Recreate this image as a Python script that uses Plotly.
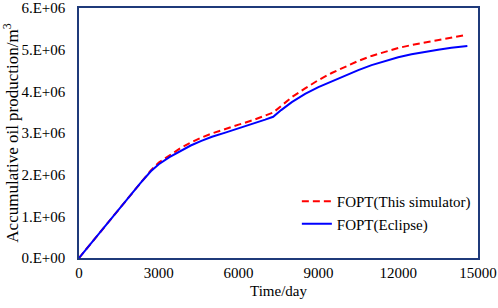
import plotly.graph_objects as go

# Data
t_sim = [0, 500, 1000, 1500, 1900, 2300, 2700, 3000, 3400, 3800, 4200, 4600, 5000, 5500, 6000,
         6500, 7000, 7300, 7600, 8000, 8500, 9000, 9500, 10000, 10500, 11000, 11500, 12000,
         12500, 13000, 13500, 14000, 14450]
fopt_sim = [0, 0.39e6, 0.78e6, 1.17e6, 1.49e6, 1.80e6, 2.10e6, 2.29e6, 2.47e6, 2.63e6, 2.77e6,
            2.89e6, 2.99e6, 3.10e6, 3.20e6, 3.30e6, 3.41e6, 3.49e6, 3.65e6, 3.86e6, 4.07e6,
            4.27e6, 4.44e6, 4.59e6, 4.73e6, 4.85e6, 4.95e6, 5.04e6, 5.11e6, 5.17e6, 5.23e6,
            5.29e6, 5.34e6]

t_ecl = [0, 500, 1000, 1500, 1900, 2300, 2700, 3000, 3400, 3800, 4200, 4600, 5000, 5500, 6000,
         6500, 7000, 7300, 7600, 8000, 8500, 9000, 9500, 10000, 10500, 11000, 11500, 12000,
         12500, 13000, 13500, 14000, 14600]
fopt_ecl = [0, 0.39e6, 0.78e6, 1.17e6, 1.49e6, 1.79e6, 2.08e6, 2.25e6, 2.42e6, 2.57e6, 2.70e6,
            2.81e6, 2.91e6, 3.01e6, 3.11e6, 3.22e6, 3.32e6, 3.39e6, 3.55e6, 3.74e6, 3.94e6,
            4.10e6, 4.24e6, 4.38e6, 4.51e6, 4.63e6, 4.73e6, 4.82e6, 4.89e6, 4.95e6, 5.00e6,
            5.045e6, 5.09e6]

x_ticks = [0, 3000, 6000, 9000, 12000, 15000]
y_ticks = [0, 1e6, 2e6, 3e6, 4e6, 5e6, 6e6]
y_ticklabels = ["0.E+00", "1.E+06", "2.E+06", "3.E+06", "4.E+06", "5.E+06", "6.E+06"]

FONT = "Liberation Serif"
FRAME = "#1F3A7A"

fig = go.Figure()
fig.add_trace(go.Scatter(x=t_sim, y=fopt_sim, mode="lines", name="FOPT(This simulator)",
                         line=dict(color="#FF0000", width=2, dash="7px,4px")))
fig.add_trace(go.Scatter(x=t_ecl, y=fopt_ecl, mode="lines", name="FOPT(Eclipse)",
                         line=dict(color="#0000FF", width=2)))

fig.update_layout(
    width=498, height=308,
    margin=dict(l=79, r=20, t=8, b=50),
    paper_bgcolor="white", plot_bgcolor="white",
    font=dict(family=FONT, size=15, color="black"),
    showlegend=True,
    legend=dict(x=0.546, xanchor="left", y=0.072, yanchor="bottom",
                bgcolor="rgba(0,0,0,0)", font=dict(family=FONT, size=15),
                tracegroupgap=0),
    xaxis=dict(range=[0, 15000], tickvals=x_ticks, ticktext=[str(v) for v in x_ticks],
               showgrid=False, zeroline=False, showline=True, linecolor=FRAME, linewidth=1.5,
               mirror=True, ticks="", tickfont=dict(size=15), automargin=False,
               title=dict(text="Time/day", font=dict(size=15), standoff=6)),
    yaxis=dict(range=[0, 6e6], tickvals=y_ticks, ticktext=y_ticklabels,
               showgrid=False, zeroline=False, showline=True, linecolor=FRAME, linewidth=1.5,
               mirror=True, ticks="", tickfont=dict(size=15), automargin=False,
               ticklabelstandoff=9,
               title=dict(text="Accumulative oil production/m<sup>3</sup>", font=dict(size=17), standoff=6)),
)

fig.write_html("out.html", config={"displayModeBar": False},
               post_script="document.body.style.margin='0';document.body.style.overflow='hidden';")
